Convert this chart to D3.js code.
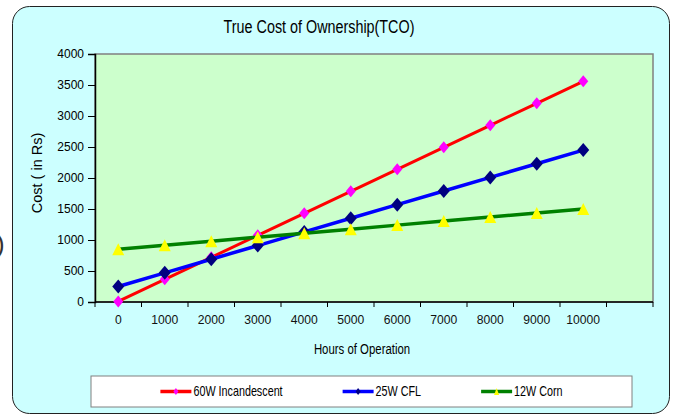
<!DOCTYPE html>
<html>
<head>
<meta charset="utf-8">
<script src="https://cdn.jsdelivr.net/npm/d3@7"></script>
<style>
  body { margin: 0; background: #fff; }
  text { font-family: "Liberation Sans", Arial, sans-serif; fill: #000; }
</style>
</head>
<body>
<div class="chart"></div>
<script>
// hours of operation (last slot is empty, as in the original sheet)
var hours = ["0", "1000", "2000", "3000", "4000", "5000", "6000", "7000", "8000", "9000", "10000", ""]
var incandescent = [10, 365, 720, 1075, 1430, 1785, 2140, 2495, 2850, 3205, 3560]
var cfl = [250, 470, 690, 910, 1130, 1350, 1570, 1790, 2010, 2230, 2450]
var corn = [850, 915, 980, 1045, 1110, 1175, 1240, 1305, 1370, 1435, 1500]
var yTicks = [0, 500, 1000, 1500, 2000, 2500, 3000, 3500, 4000]
var seriesNames = ["60W Incandescent", "25W CFL", "12W Corn"]

var width = 675, height = 416
var plot = {left: 95, top: 54, right: 653, bottom: 302}

var series = [
  {name: seriesNames[0], values: incandescent, line: "#ff0000", lw: 3, marker: "diamond", mfill: "#ff00ff", mw: 10, mh: 12},
  {name: seriesNames[1], values: cfl, line: "#0000ff", lw: 3.5, marker: "diamond", mfill: "#000080", mw: 12, mh: 14},
  {name: seriesNames[2], values: corn, line: "#008000", lw: 3.5, marker: "triangle", mfill: "#ffff00", mw: 12, mh: 12}
]

const svg = d3.select('.chart')
    .append('svg')
    .attr("width", width)
    .attr("height", height)

// stray bracket from the slide behind the chart
svg.append("text")
    .attr("x", -4).attr("y", 253)
    .style("font-size", "26px")
    .style("fill", "#333")
    .text(")")

// outer chart frame
svg.append("rect")
    .attr("x", 12.5).attr("y", 6.5)
    .attr("width", 657).attr("height", 407)
    .attr("rx", 17).attr("ry", 17)
    .attr("fill", "#ccffff")
    .attr("stroke", "#222")
    .attr("stroke-width", 1)

var x = d3.scaleBand()
    .domain(hours)
    .range([plot.left, plot.right])

var y = d3.scaleLinear()
    .domain([0, 4000])
    .range([plot.bottom, plot.top])

// plot area
svg.append("rect")
    .attr("x", plot.left).attr("y", plot.top)
    .attr("width", plot.right - plot.left).attr("height", plot.bottom - plot.top)
    .attr("fill", "#ccffcc")
    .attr("stroke", "#808080")
    .attr("stroke-width", 1.5)

function squeezed(sel, tx, ty, sx, str) {
  return sel.append("text")
      .attr("transform", "translate(" + tx + "," + ty + ") scale(" + sx + ",1)")
      .text(str)
}

// title
squeezed(svg, 319, 33, 0.82, "True Cost of Ownership(TCO)")
    .attr("text-anchor", "middle")
    .style("font-size", "17.5px")

// y axis
var yAxis = svg.append("g")
    .attr("transform", "translate(" + plot.left + ",0)")
    .call(d3.axisLeft(y).tickValues(yTicks).tickFormat(d3.format("d")).tickSize(7).tickPadding(4))
yAxis.select(".domain").attr("stroke", "#000").attr("stroke-width", 1.5)
yAxis.selectAll(".tick line").attr("stroke", "#000")
yAxis.selectAll("text")
    .style("font-size", "12px")
    .style("font-family", "'Liberation Sans', Arial, sans-serif")
    .attr("fill", "#111")

// x axis: line, boundary ticks, centred labels
var xg = svg.append("g")
xg.append("line")
    .attr("x1", plot.left).attr("x2", plot.right)
    .attr("y1", plot.bottom).attr("y2", plot.bottom)
    .attr("stroke", "#000").attr("stroke-width", 1.5)
xg.selectAll(".bt")
    .data(d3.range(hours.length + 1))
    .enter()
    .append("line")
    .attr("x1", function(i){ return x.range()[0] + i * x.step() })
    .attr("x2", function(i){ return x.range()[0] + i * x.step() })
    .attr("y1", plot.bottom).attr("y2", plot.bottom + 5)
    .attr("stroke", "#000")
hours.forEach(function(h){
  squeezed(xg, x(h) + x.bandwidth() / 2, 324, 0.9, h)
      .attr("text-anchor", "middle")
      .style("font-size", "13.5px")
      .style("fill", "#111")
})

// axis titles
squeezed(svg, 362, 354, 0.76, "Hours of Operation")
    .attr("text-anchor", "middle")
    .style("font-size", "15px")
svg.append("text")
    .attr("transform", "translate(41.5,173) rotate(-90)")
    .attr("text-anchor", "middle")
    .style("font-size", "14.5px")
    .text("Cost ( in Rs)")

function markerPath(type, w, h) {
  if (type == "diamond") {
    return "M0," + (-h / 2) + "L" + (w / 2) + ",0L0," + (h / 2) + "L" + (-w / 2) + ",0Z"
  }
  return "M0," + (-h / 2) + "L" + (w / 2) + "," + (h / 2) + "L" + (-w / 2) + "," + (h / 2) + "Z"
}

var line = d3.line()
    .x(function(d, i){ return x(hours[i]) + x.bandwidth() / 2 })
    .y(function(d){ return y(d) })

series.forEach(function(s){
  var g = svg.append("g")
  g.append("path")
      .attr("d", line(s.values))
      .attr("fill", "none")
      .attr("stroke", s.line)
      .attr("stroke-width", s.lw)
  g.selectAll("path.m")
      .data(s.values)
      .enter()
      .append("path")
      .attr("class", "m")
      .attr("transform", function(d, i){ return "translate(" + (x(hours[i]) + x.bandwidth() / 2) + "," + y(d) + ")" })
      .attr("d", markerPath(s.marker, s.mw, s.mh))
      .attr("fill", s.mfill)
})

// legend
var legend = svg.append("g")
legend.append("rect")
    .attr("x", 91).attr("y", 376)
    .attr("width", 541).attr("height", 31)
    .attr("fill", "#fff")
    .attr("stroke", "#808080")

var entries = []
var total = 0
series.forEach(function(s, k){
  var t = squeezed(legend, 0, 396, 0.77, s.name).style("font-size", "14px")
  var w = t.node().getComputedTextLength() * 0.77
  entries.push({s: s, t: t, w: w})
  total += 33 + w + (k < series.length - 1 ? 60 : 0)
})
var cx = 91 + 541 / 2 - total / 2
entries.forEach(function(e){
  legend.append("line")
      .attr("x1", cx).attr("x2", cx + 31)
      .attr("y1", 391.5).attr("y2", 391.5)
      .attr("stroke", e.s.line)
      .attr("stroke-width", 3.5)
  legend.append("path")
      .attr("transform", "translate(" + (cx + 15.5) + ",391.5)")
      .attr("d", markerPath(e.s.marker, 5, 7))
      .attr("fill", e.s.mfill)
  e.t.attr("transform", "translate(" + (cx + 33) + ",396) scale(0.77,1)")
  cx += 33 + e.w + 60
})
</script>
</body>
</html>
